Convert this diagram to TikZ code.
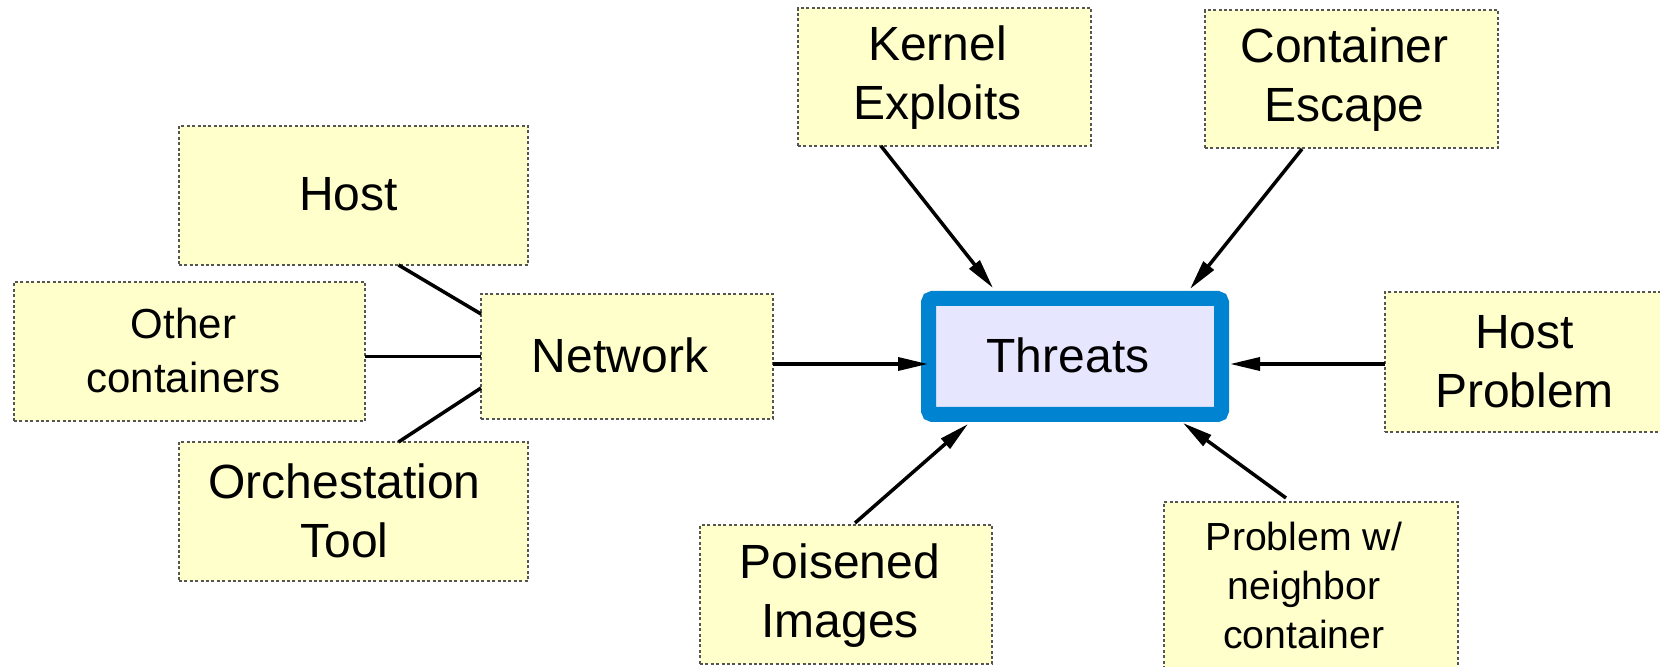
\documentclass[tikz,border=0pt]{standalone}
\usepackage{fontspec}
\setmainfont{Liberation Sans}
\usetikzlibrary{arrows.meta,calc}
\definecolor{boxfill}{HTML}{FFFFCC}
\definecolor{boxline}{HTML}{555555}
\definecolor{thrfill}{HTML}{E6E6FF}
\definecolor{thrline}{HTML}{0084D1}
\tikzset{
  x=0.5pt,y=-0.5pt,
  ybox/.style={draw=boxline,fill=boxfill,line width=0.6pt,dash pattern=on 1.5pt off 1.2pt,
    inner sep=0pt,outer sep=0pt},
  txt/.style={inner sep=0pt,align=center,font=\fontsize{24}{29.5}\selectfont},
  smalltxt/.style={txt,font=\fontsize{21}{27}\selectfont},
  tinytxt/.style={txt,font=\fontsize{19.6}{24.5}\selectfont},
  conn/.style={draw=black,line width=1.75pt},
  arr/.style={conn,-{Triangle[length=15pt,width=6.5pt]}}
}
\begin{document}
\begin{tikzpicture}
\clip (0,0) rectangle (1660,667);
\useasboundingbox (0,0) rectangle (1660,667);
\node[ybox,minimum width=174.5pt,minimum height=69.5pt] (host) at (353.5,195.5) {};
\node[ybox,minimum width=175.5pt,minimum height=69.5pt] (other) at (189.5,351.5) {};
\node[ybox,minimum width=146pt,minimum height=62.5pt] (network) at (627,356.5) {};
\node[ybox,minimum width=174.5pt,minimum height=69.5pt] (orch) at (353.5,511.5) {};
\node[ybox,minimum width=146.5pt,minimum height=69pt] (kernel) at (944.5,77) {};
\node[ybox,minimum width=146.5pt,minimum height=69pt] (escape) at (1351.5,79) {};
\node[ybox,minimum width=147.5pt,minimum height=70pt] (hostprob) at (1532.5,362) {};
\node[ybox,minimum width=146pt,minimum height=69.5pt] (poison) at (846,594.5) {};
\node[ybox,minimum width=147pt,minimum height=83pt] (neighbor) at (1311,585) {};
\node[draw=thrline,fill=thrfill,line width=7.5pt,rounded corners=2pt,inner sep=0pt,outer sep=0pt,
  minimum width=146.5pt,minimum height=58pt] (threats) at (1075,356.5) {};
% texts
\node[txt] (hostT) at ($(host)+(-5,-1)$) {Host};
\node[smalltxt] (otherT) at ($(other)+(-6,-1)$) {Other\\containers};
\node[txt] (networkT) at ($(network)+(-7,-1)$) {Network};
\node[txt] (orchT) at ($(orch)+(-9,-1)$) {Orchestation\\Tool};
\node[txt] (kernelT) at ($(kernel)+(-7,1)$) {Kernel\\Exploits};
\node[txt] (escapeT) at ($(escape)+(-7,1)$) {Container\\Escape};
\node[txt] (hostprobT) at ($(hostprob)+(-8,0)$) {Host\\Problem};
\node[txt] (poisonT) at ($(poison)+(-6,1)$) {Poisened\\Images};
\node[tinytxt] (neighborT) at ($(neighbor)+(-7,0)$) {Problem w/\\neighbor\\container};
\node[txt] (threatsT) at ($(threats)+(-7,-1)$) {Threats};
% undirected links into Network
\draw[conn] ($(host.south)+(45,0)$) -- ($(network.west)+(0,-42.5)$);
\draw[conn] (network.west -| other.east) -- (network.west);
\draw[conn] ($(orch.north)+(45,0)$) -- ($(network.west)+(0,31.5)$);
% arrows into Threats
\draw[arr] ($(network.east)+(0,7.5)$) -- ($(threats.west)+(-0.5,7.5)$);
\draw[arr] ($(hostprob.west)+(0,2)$) -- ($(threats.east)+(8.5,7.5)$);
\draw[arr] ($(kernel.south)+(-63.5,0)$) -- ($(threats.north)+(-82,-10.5)$);
\draw[arr] ($(escape.south)+(-49.5,1)$) -- ($(threats.north)+(115,-9.5)$);
\draw[arr] ($(poison.north)+(9,-2)$) -- ($(threats.south)+(-107,9.5)$);
\draw[arr] ($(neighbor.north)+(-25,-4)$) -- ($(threats.south)+(108,8.5)$);
\end{tikzpicture}
\end{document}
